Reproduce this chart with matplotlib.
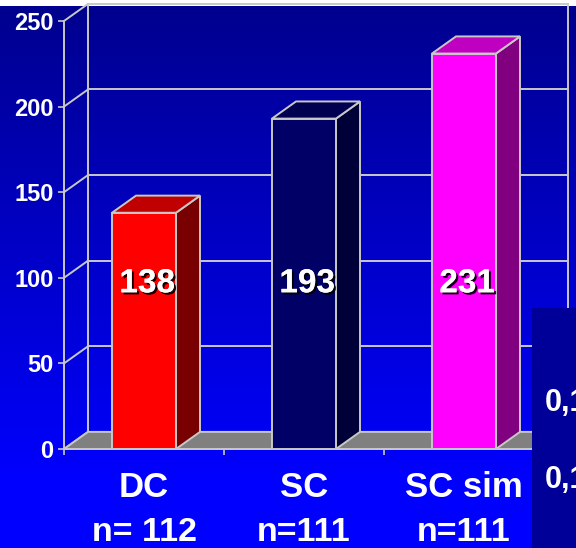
import numpy as np
import matplotlib
matplotlib.use("Agg")
import matplotlib.pyplot as plt
from matplotlib.patches import Rectangle, Polygon
from matplotlib.lines import Line2D
import matplotlib.patheffects as pe

# ---- data ----
categories = ["DC", "SC", "SC sim"]
sample_sizes = ["n= 112", "n=111", "n=111"]
values = [138, 193, 231]
y_ticks = [0, 50, 100, 150, 200, 250]
side_texts = ["0,1", "0,1"]

front_colors = ["#FF0000", "#000066", "#FF00FF"]
side_colors = ["#780000", "#000038", "#800080"]
top_colors = ["#C00000", "#000050", "#C000C0"]

plt.rcParams['font.family'] = ['Liberation Sans', 'DejaVu Sans']

W, H = 576, 548
fig = plt.figure(figsize=(W / 100, H / 100), dpi=100)
fig.patch.set_facecolor("white")

# background gradient
bg = fig.add_axes([0, 0, 1, 542 / H])
bg.set_axis_off()
t = np.linspace(0, 1, 256)
grad = np.zeros((256, 1, 3))
grad[:, 0, 2] = 0x8E / 255 + (1 - 0x8E / 255) * np.clip(t / 0.88, 0, 1)
bg.imshow(grad, aspect="auto", extent=[0, 1, 0, 1], origin="upper")
bg.set_xlim(0, 1)
bg.set_ylim(0, 1)

# main axes (front plane)
ax = fig.add_axes([64 / W, 99 / H, 480 / W, 428 / H])
ax.set_xlim(0, 3)
ax.set_ylim(0, 250)
ax.patch.set_alpha(0)
for s in ax.spines.values():
    s.set_visible(False)

DX, DY = 0.15, 10.0
edge = "#C8C8C8"
lw = 1.4
ymax = y_ticks[-1]
ncat = len(categories)

# walls / grid
for v in y_ticks:
    ax.add_line(Line2D([DX, ncat + DX], [v + DY, v + DY], color=edge, lw=lw, clip_on=False, zorder=1))
    ax.add_line(Line2D([0, DX], [v, v + DY], color=edge, lw=lw, clip_on=False, zorder=1))
ax.add_line(Line2D([DX, DX], [DY, ymax + DY], color=edge, lw=lw, clip_on=False, zorder=1))
ax.add_line(Line2D([ncat + DX, ncat + DX], [DY, ymax + DY], color=edge, lw=lw, clip_on=False, zorder=1))
ax.add_line(Line2D([0, 0], [0, ymax], color=edge, lw=lw, clip_on=False, zorder=1))

# floor
ax.add_patch(Polygon([(0, 0), (DX, DY), (ncat + DX, DY), (ncat, 0)], closed=True,
                     facecolor="#808080", edgecolor=edge, lw=lw, clip_on=False, zorder=2))
ax.add_line(Line2D([0, ncat], [0, 0], color=edge, lw=lw, clip_on=False, zorder=2))

# bars
bw = 0.4
for i, v in enumerate(values):
    x0 = i + 0.5 - bw / 2
    x1 = x0 + bw
    ax.add_patch(Polygon([(x1, 0), (x1 + DX, DY), (x1 + DX, v + DY), (x1, v)], closed=True,
                         facecolor=side_colors[i], edgecolor=edge, lw=lw, clip_on=False, zorder=3))
    ax.add_patch(Polygon([(x0, v), (x0 + DX, v + DY), (x1 + DX, v + DY), (x1, v)], closed=True,
                         facecolor=top_colors[i], edgecolor=edge, lw=lw, clip_on=False, zorder=3))
    ax.add_patch(Rectangle((x0, 0), bw, v, facecolor=front_colors[i], edgecolor=edge,
                           lw=lw, clip_on=False, zorder=4))
    ax.text(i + 0.52, 96.5, str(v), ha="center", va="center", color="white", fontsize=24,
            fontweight="bold", zorder=6,
            path_effects=[pe.withSimplePatchShadow(offset=(1.5, -1.5), shadow_rgbFace="black", alpha=0.9),
                          pe.Normal()])
    ax.text(i + 0.5, -22.5, categories[i], ha="center", va="center", color="white",
            fontsize=25, fontweight="bold", zorder=6)
    ax.text(i + 0.5, -48.5, sample_sizes[i], ha="center", va="center", color="white",
            fontsize=24.5, fontweight="bold", zorder=6)

# ticks
ax.set_yticks(y_ticks)
ax.set_yticklabels([str(v) for v in y_ticks], fontsize=17, fontweight="bold", color="white")
ax.set_xticks(range(ncat + 1))
ax.set_xticklabels([""] * (ncat + 1))
ax.tick_params(axis="both", colors=edge, length=4.5, width=1.2, direction="out")
ax.tick_params(axis="y", labelcolor="white", pad=3)

# overlapping dark panel on the right
fig.add_artist(Rectangle((532 / W, 0), 44 / W, 240 / H, transform=fig.transFigure,
                         facecolor="#000098", edgecolor="none", zorder=10))
for k, yy in enumerate([403, 480]):
    fig.text(545 / W, 1 - yy / H, side_texts[k], ha="left", va="center", color="white",
             fontsize=22, fontweight="bold", zorder=11)

fig.savefig("out.png", dpi=100, facecolor=fig.get_facecolor())
